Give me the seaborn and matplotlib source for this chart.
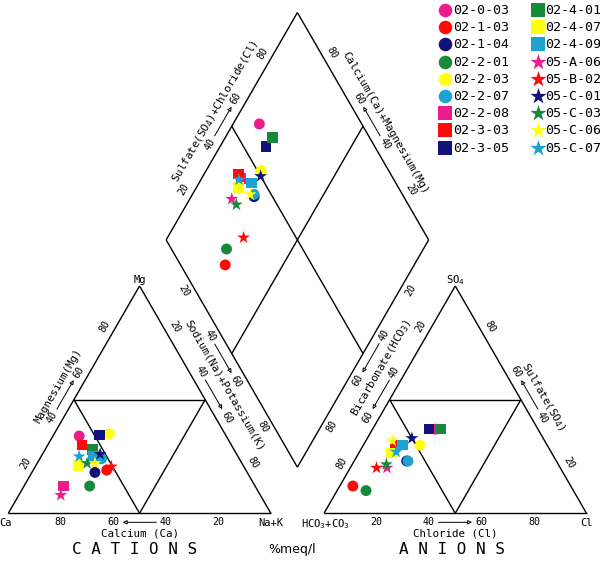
import numpy as np
import pandas as pd
import matplotlib
matplotlib.use("Agg")
import matplotlib.pyplot as plt
import seaborn as sns

# ---------------- data (percent of meq/l) ----------------
samples = ["02-0-03", "02-1-03", "02-1-04", "02-2-01", "02-2-03", "02-2-07",
           "02-2-08", "02-3-03", "02-3-05", "02-4-01", "02-4-07", "02-4-09",
           "05-A-06", "05-B-02", "05-C-01", "05-C-03", "05-C-06", "05-C-07"]
calcium = [56, 53, 58, 63, 44, 52.5, 73, 57, 48, 54, 63, 55, 76, 50.5, 52, 59, 56, 60.5]
magnesium = [34, 19, 18, 12, 35, 24, 12, 30, 34.5, 28, 21, 25, 8, 20.5, 26, 22, 22, 25]
sodium_potassium = [10, 28, 24, 25, 21, 23.5, 15, 13, 17.5, 18, 16, 20, 16, 29, 22, 19, 22, 14.5]
sulfate = [37, 12, 23, 10, 30, 23, 30, 30, 37, 37, 26.5, 30, 20, 20, 33, 21.5, 32, 27]
chloride = [24, 5, 20, 11, 21.5, 20.5, 12, 12, 21.5, 26, 12.5, 15, 14, 10, 17, 13, 10, 14]
bicarbonate = [100 - s - c for s, c in zip(sulfate, chloride)]

sample_colors = ["#ec1c8c", "#ff0a0a", "#12127a", "#168a3a", "#ffff10", "#1ea2d2",
                 "#ec1c8c", "#ff0a0a", "#12127a", "#168a3a", "#ffff10", "#1ea2d2",
                 "#ec1c8c", "#ff0a0a", "#12127a", "#168a3a", "#ffff10", "#1ea2d2"]
sample_markers = ["o"] * 6 + ["s"] * 6 + ["*"] * 6

# ---------------- geometry (pixel layout) ----------------
MONO = "DejaVu Sans Mono"
plt.rcParams["font.family"] = [MONO, "DejaVu Sans"]
L = 262.5
H = L * np.sqrt(3) / 2
CA = np.array([8.3, 513.3]); NAK = CA + [L, 0]; MG = CA + [L / 2, -H]
HC = np.array([324.0, 513.3]); CL = HC + [L, 0]; SO = HC + [L / 2, -H]
DB = np.array([(NAK[0] + HC[0]) / 2, 513.3 - (HC[0] - NAK[0]) / 2 * np.sqrt(3)])
DL = DB + [-L / 2, -H]; DR = DB + [L / 2, -H]; DT = DB + [0, -2 * H]


def cation_xy(ca, mg, na):
    f = np.array([ca, mg, na], dtype=float) / 100
    return f[0] * CA + f[1] * MG + f[2] * NAK


def anion_xy(hc, so, cl):
    f = np.array([hc, so, cl], dtype=float) / 100
    return f[0] * HC + f[1] * SO + f[2] * CL


def diamond_xy(na, socl):
    return DB + (1 - na / 100) * (DL - DB) + (socl / 100) * (DR - DB)


rows = []
for i, s in enumerate(samples):
    p = cation_xy(calcium[i], magnesium[i], sodium_potassium[i])
    rows.append(dict(order=i, sample=s, x=p[0], y=p[1]))
    p = anion_xy(bicarbonate[i], sulfate[i], chloride[i])
    rows.append(dict(order=i, sample=s, x=p[0], y=p[1]))
    p = diamond_xy(sodium_potassium[i], sulfate[i] + chloride[i])
    rows.append(dict(order=i, sample=s, x=p[0], y=p[1]))
df = pd.DataFrame(rows).sort_values(["order"], kind="stable").reset_index(drop=True)

palette = dict(zip(samples, sample_colors))
marker_map = dict(zip(samples, sample_markers))
size_map = {s: {"o": 62, "s": 58, "*": 95}[m] for s, m in zip(samples, sample_markers)}

fig = plt.figure(figsize=(6, 5.61), dpi=100)
ax = fig.add_axes([0, 0, 1, 1])

lw = 1.0
def seg(p, q):
    ax.plot([p[0], q[0]], [p[1], q[1]], color="black", lw=lw, solid_capstyle="butt", zorder=1)

# triangles
for A, B, C in [(CA, NAK, MG), (HC, CL, SO)]:
    for p, q in [(A, B), (B, C), (C, A)]:
        seg(p, q)
    mab, mbc, mca = (A + B) / 2, (B + C) / 2, (C + A) / 2
    seg(mab, mbc); seg(mbc, mca); seg(mca, mab)
# diamond
for p, q in [(DB, DL), (DL, DT), (DT, DR), (DR, DB)]:
    seg(p, q)
seg((DL + DT) / 2, (DR + DB) / 2)
seg((DT + DR) / 2, (DB + DL) / 2)

# points
sns.scatterplot(data=df, x="x", y="y", hue="sample", style="sample", size="sample",
                palette=palette, markers=marker_map, sizes=size_map,
                linewidth=0, legend=False, ax=ax, zorder=3)
ax.set_xlim(0, 600)
ax.set_ylim(561, 0)
ax.axis("off")

NUMFS = 7.2
TITFS = 7.8

def edge(p0, p1, normal, labels, rot, off=10, title=None, title_t=0.5, title_off=21,
         arrow_from=None, arrow_to=None):
    p0 = np.asarray(p0); p1 = np.asarray(p1); n = np.asarray(normal)
    tpos = {}
    for t, lab in labels:
        pt = p0 + (p1 - p0) * t + n * off
        tpos[lab] = t
        ax.text(pt[0], pt[1], lab, fontsize=NUMFS, rotation=rot, ha="center", va="center",
                rotation_mode="anchor", family=MONO)
    if arrow_from is not None:
        ta, tb = tpos[arrow_from], tpos[arrow_to]
        d = 0.036 if tb > ta else -0.036
        tail = p0 + (p1 - p0) * (ta + d) + n * off
        head = p0 + (p1 - p0) * (tb - d) + n * off
        ax.annotate("", xy=head, xytext=tail,
                    arrowprops=dict(arrowstyle="-|>", lw=0.7, color="black",
                                    fc="white", mutation_scale=6, shrinkA=0, shrinkB=0))
    if title:
        pt = p0 + (p1 - p0) * title_t + n * title_off
        ax.text(pt[0], pt[1], title, fontsize=TITFS, rotation=rot, ha="center", va="center",
                rotation_mode="anchor", family=[MONO, "DejaVu Sans"])

up = [(0.2, "20"), (0.4, "40"), (0.6, "60"), (0.8, "80")]
down = [(0.2, "80"), (0.4, "60"), (0.6, "40"), (0.8, "20")]
nL = (-0.866, -0.5); nR = (0.866, -0.5); nLL = (-0.866, 0.5); nLR = (0.866, 0.5)

edge(CA, NAK, (0, 1), down, 0, off=9, title="Calcium (Ca)", title_off=20,
     arrow_from="40", arrow_to="60")
edge(CA, MG, nL, up, 60, title="Magnesium(Mg)", title_t=0.515, title_off=20,
     arrow_from="40", arrow_to="60")
edge(MG, NAK, nR, up, -60, title="Sodium(Na)+Potassium(K)", title_t=0.49, title_off=23.5,
     arrow_from="40", arrow_to="60")
edge(DL, DB, nLL, up, -60, arrow_from="40", arrow_to="60")
edge(DL, DT, nL, up, 60, title="Sulfate(SO$_4$)+Chloride(Cl)", title_t=0.518, title_off=21,
     arrow_from="40", arrow_to="60")
edge(DT, DR, nR, down, -60, title="Calcium(Ca)+Magnesium(Mg)", title_t=0.53, title_off=21,
     arrow_from="40", arrow_to="60")
edge(DR, DB, nLR, up, 60, off=9, arrow_from="40", arrow_to="60")
edge(SO, HC, nL, up, 60, title="Bicarbonate(HCO$_3$)", title_t=0.41, title_off=23,
     arrow_from="40", arrow_to="60")
edge(SO, CL, nR, down, -60, title="Sulfate(SO$_4$)", title_t=0.533, title_off=21,
     arrow_from="40", arrow_to="60")
edge(HC, CL, (0, 1), up, 0, off=9, title="Chloride (Cl)", title_off=20,
     arrow_from="40", arrow_to="60")

# corner labels
ax.text(CA[0] - 3, 523, "Ca", fontsize=7.5, ha="center", va="center")
ax.text(NAK[0], 523, "Na+K", fontsize=7.5, ha="center", va="center")
ax.text(MG[0], 280, "Mg", fontsize=7.5, ha="center", va="center")
ax.text(HC[0] + 1, 524, "HCO$_3$+CO$_3$", fontsize=7.5, ha="center", va="center")
ax.text(CL[0], 523, "Cl", fontsize=7.5, ha="center", va="center")
ax.text(SO[0], 280, "SO$_4$", fontsize=7.5, ha="center", va="center")

ax.text(135, 549, "C A T I O N S", fontsize=11.5, ha="center", va="center", family=MONO)
ax.text(452, 549, "A N I O N S", fontsize=11.5, ha="center", va="center", family=MONO)
ax.text(292, 549, "%meq/l", fontsize=9, ha="center", va="center", family="DejaVu Sans")

# legend
for i, s in enumerate(samples):
    col, row = divmod(i, 9)
    mx = 445 if col == 0 else 538
    tx = 453 if col == 0 else 545
    y = 10 + row * 17.2
    ms = {"o": 95, "s": 88, "*": 150}[sample_markers[i]]
    ax.scatter([mx], [y], s=ms, marker=sample_markers[i], color=sample_colors[i],
               linewidths=0, zorder=4)
    ax.text(tx, y + 0.5, s, fontsize=9.6, ha="left", va="center", family=MONO)

fig.savefig("out.png", dpi=100)
